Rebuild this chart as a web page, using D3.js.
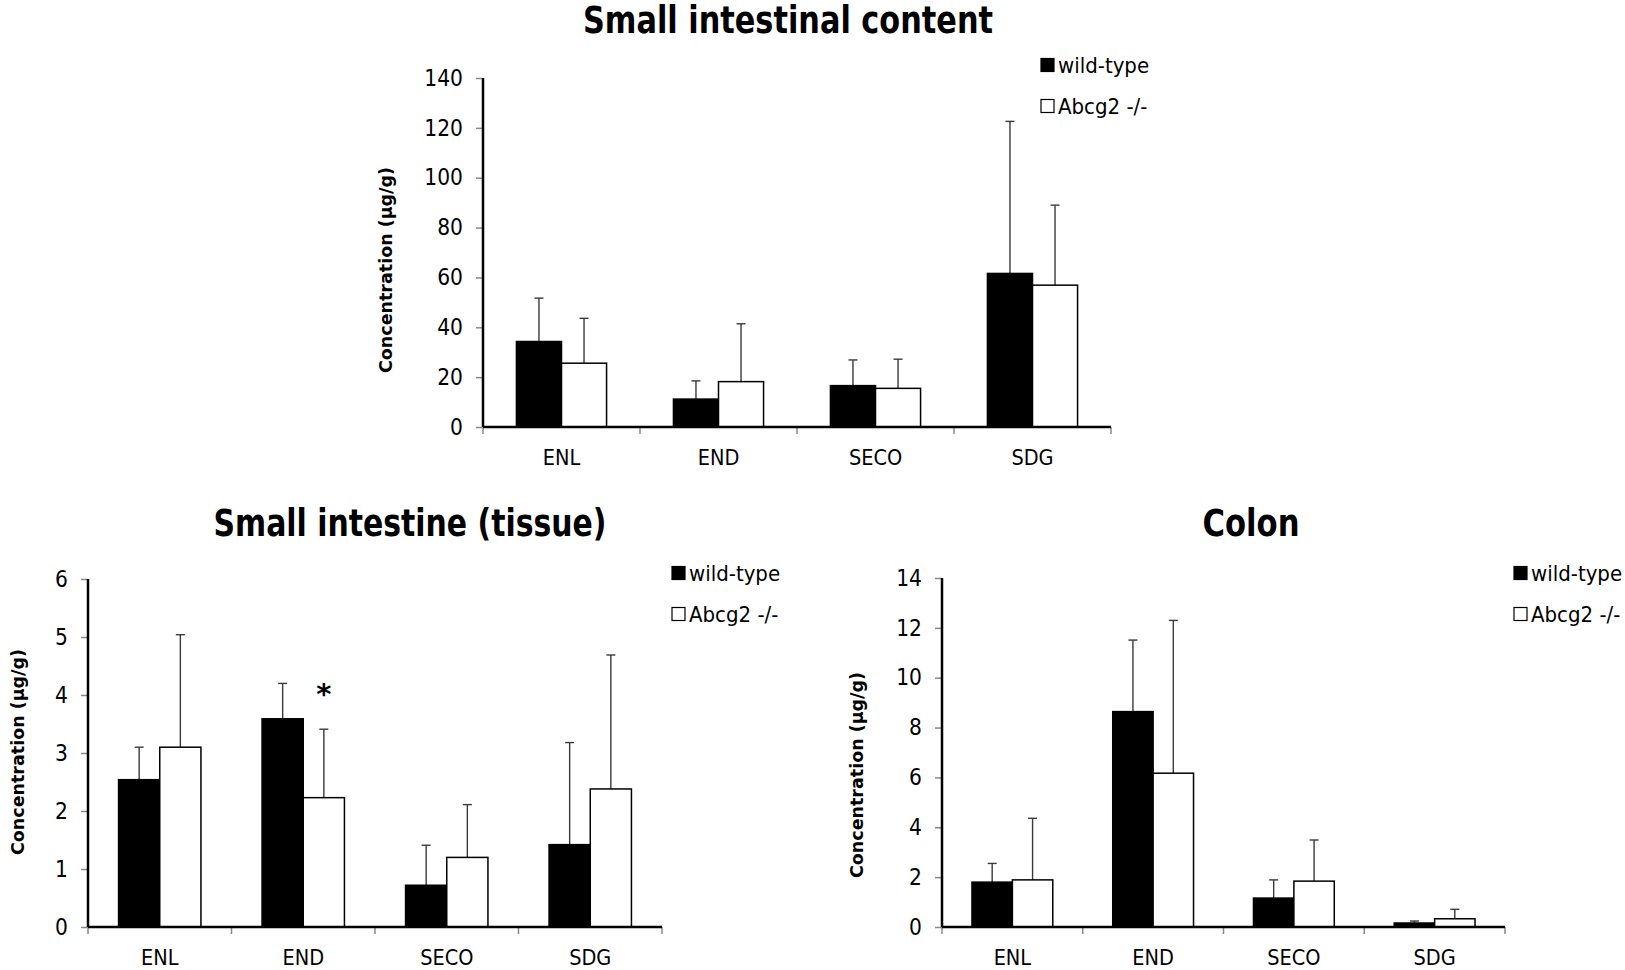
<!DOCTYPE html>
<html>
<head>
<meta charset="utf-8">
<script src="https://cdn.jsdelivr.net/npm/d3@7"></script>
<style>
  html, body { margin: 0; padding: 0; background: #fff; }
  svg { display: block; }
</style>
</head>
<body>
<svg id="chart" width="1625" height="970"></svg>
<script>
// ---------------- data ----------------
const categories = ["ENL", "END", "SECO", "SDG"];
const seriesNames = ["wild-type", "Abcg2 -/-"];

// Small intestinal content (µg/g)
const contentWT   = [34.3, 11.2, 16.6, 61.6];
const contentWTSD = [17.4, 7.3, 10.3, 61.0];
const contentKO   = [25.6, 18.2, 15.5, 56.9];
const contentKOSD = [18.0, 23.2, 11.7, 32.1];
const contentTicks = [0, 20, 40, 60, 80, 100, 120, 140];

// Small intestine (tissue) (µg/g)
const tissueWT   = [2.54, 3.59, 0.72, 1.42];
const tissueWTSD = [0.56, 0.61, 0.69, 1.76];
const tissueKO   = [3.10, 2.23, 1.20, 2.38];
const tissueKOSD = [1.94, 1.18, 0.91, 2.31];
const tissueTicks = [0, 1, 2, 3, 4, 5, 6];
const tissueStars = [{ category: "END", series: "Abcg2 -/-", value: 4.15, text: "*" }];

// Colon (µg/g)
const colonWT   = [1.80, 8.64, 1.16, 0.16];
const colonWTSD = [0.75, 2.87, 0.73, 0.08];
const colonKO   = [1.89, 6.17, 1.84, 0.33];
const colonKOSD = [2.47, 6.13, 1.65, 0.38];
const colonTicks = [0, 2, 4, 6, 8, 10, 12, 14];

const yTitle = "Concentration (µg/g)";

// ---------------- drawing ----------------
const svg = d3.select("#chart");
const numFont = "'Liberation Sans Narrow', 'DejaVu Sans Condensed', 'Liberation Sans', sans-serif";
const titleFont = "'Liberation Sans Narrow', 'DejaVu Sans Condensed', 'Liberation Sans', sans-serif";
const yTitleFont = "'DejaVu Sans', Verdana, sans-serif";

function drawPanel(p) {
  const g = svg.append("g");
  const x = d3.scaleBand().domain(categories).range([p.x0, p.x1]).padding(0);
  const xs = d3.scaleBand().domain(seriesNames).range([0, x.bandwidth()])
    .paddingInner(0).paddingOuter(0.742);
  const y = d3.scaleLinear().domain([0, d3.max(p.ticks)]).range([p.yBase, p.yTop]);

  const rows = categories.map((c, i) => ([
    { c, s: seriesNames[0], v: p.wt[i], sd: p.wtSD[i] },
    { c, s: seriesNames[1], v: p.ko[i], sd: p.koSD[i] }
  ])).flat();

  // error bars (upper only)
  const capW = 9;
  const eb = g.append("g").attr("stroke", "#3a3a3a").attr("stroke-width", 1.4);
  rows.forEach(d => {
    const cx = x(d.c) + xs(d.s) + xs.bandwidth() / 2;
    eb.append("line").attr("x1", cx).attr("x2", cx)
      .attr("y1", y(d.v)).attr("y2", y(d.v + d.sd));
    eb.append("line").attr("x1", cx - capW / 2).attr("x2", cx + capW / 2)
      .attr("y1", y(d.v + d.sd)).attr("y2", y(d.v + d.sd));
  });

  // bars
  g.append("g").selectAll("rect").data(rows).join("rect")
    .attr("x", d => x(d.c) + xs(d.s))
    .attr("y", d => y(d.v))
    .attr("width", xs.bandwidth())
    .attr("height", d => y(0) - y(d.v))
    .attr("fill", d => d.s === seriesNames[0] ? "#000" : "#fff")
    .attr("stroke", "#000")
    .attr("stroke-width", 1.5);

  // y axis
  const ya = g.append("g").attr("transform", `translate(${p.x0},0)`)
    .call(d3.axisLeft(y).tickValues(p.ticks).tickSize(7).tickPadding(13).tickFormat(d3.format("d")));
  ya.select(".domain").remove();
  ya.selectAll(".tick line").attr("stroke", "#888").attr("stroke-width", 1.5);
  ya.selectAll(".tick text").attr("font-family", numFont).attr("font-size", 22.5)
    .attr("fill", "#000");
  g.append("line").attr("x1", p.x0).attr("x2", p.x0)
    .attr("y1", p.yTop).attr("y2", p.yBase)
    .attr("stroke", "#000").attr("stroke-width", 2.5);

  // x axis
  const bounds = categories.map(c => x(c)).concat([p.x1]);
  g.append("g").selectAll("line").data(bounds).join("line")
    .attr("x1", d => d).attr("x2", d => d)
    .attr("y1", p.yBase).attr("y2", p.yBase + 7)
    .attr("stroke", "#888").attr("stroke-width", 1.5);
  g.append("line").attr("x1", p.x0).attr("x2", p.x1)
    .attr("y1", p.yBase).attr("y2", p.yBase)
    .attr("stroke", "#000").attr("stroke-width", 2.5);
  g.append("g").selectAll("text").data(categories).join("text")
    .attr("x", d => x(d) + x.bandwidth() / 2)
    .attr("y", p.yBase + 30)
    .attr("text-anchor", "middle").attr("dominant-baseline", "central")
    .attr("font-family", numFont).attr("font-size", 21.5)
    .text(d => d);

  // title
  g.append("text").attr("x", p.titleX).attr("y", p.titleY)
    .attr("text-anchor", "middle").attr("dominant-baseline", "central")
    .attr("font-family", titleFont).attr("font-weight", "bold").attr("font-size", 37)
    .attr("textLength", p.titleW).attr("lengthAdjust", "spacingAndGlyphs")
    .text(p.title);

  // y title
  g.append("text")
    .attr("transform", `translate(${p.ytX},${p.ytY}) rotate(-90)`)
    .attr("text-anchor", "middle").attr("dominant-baseline", "central")
    .attr("font-family", yTitleFont).attr("font-weight", "bold").attr("font-size", 17.5)
    .text(yTitle);

  // legend
  const lg = g.append("g");
  seriesNames.forEach((s, i) => {
    const cy = p.legY + i * 41;
    lg.append("rect").attr("x", p.legX).attr("y", cy - 6.5).attr("width", 13).attr("height", 13)
      .attr("fill", i === 0 ? "#000" : "#fff").attr("stroke", "#000").attr("stroke-width", 1.2);
    lg.append("text").attr("x", p.legX + 17).attr("y", cy)
      .attr("dominant-baseline", "central")
      .attr("font-family", numFont).attr("font-size", 22)
      .text(s);
  });

  // significance marks
  (p.stars || []).forEach(st => {
    g.append("text")
      .attr("x", x(st.category) + xs(st.series) + xs.bandwidth() / 2)
      .attr("y", y(st.value) + 8)
      .attr("text-anchor", "middle").attr("dominant-baseline", "central")
      .attr("font-family", "'DejaVu Sans', sans-serif").attr("font-weight", "bold")
      .attr("font-size", 29).text(st.text);
  });
}

drawPanel({
  title: "Small intestinal content", titleX: 788, titleY: 20, titleW: 410,
  x0: 483, x1: 1111, yTop: 78, yBase: 427, ticks: contentTicks,
  wt: contentWT, wtSD: contentWTSD, ko: contentKO, koSD: contentKOSD,
  ytX: 386, ytY: 270, legX: 1041, legY: 65
});
drawPanel({
  title: "Small intestine (tissue)", titleX: 410, titleY: 523, titleW: 393,
  x0: 88, x1: 662, yTop: 579, yBase: 927, ticks: tissueTicks,
  wt: tissueWT, wtSD: tissueWTSD, ko: tissueKO, koSD: tissueKOSD,
  ytX: 18, ytY: 752, legX: 672, legY: 573, stars: tissueStars
});
drawPanel({
  title: "Colon", titleX: 1251, titleY: 523, titleW: 97,
  x0: 942, x1: 1505, yTop: 578, yBase: 927, ticks: colonTicks,
  wt: colonWT, wtSD: colonWTSD, ko: colonKO, koSD: colonKOSD,
  ytX: 857, ytY: 775, legX: 1514, legY: 573
});
</script>
</body>
</html>
